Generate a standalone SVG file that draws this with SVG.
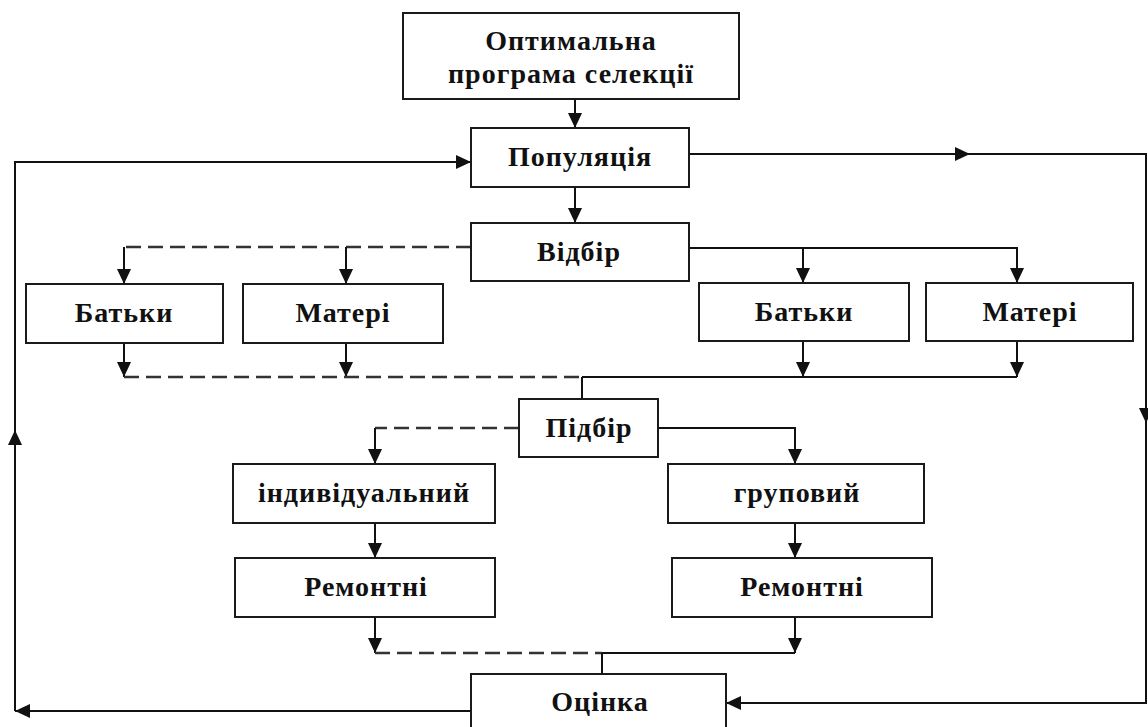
<svg xmlns="http://www.w3.org/2000/svg" width="1148" height="727" viewBox="0 0 1148 727">
<defs>
<style>
.box{fill:#fff;stroke:#1a1a1a;stroke-width:2}
.ln{fill:none;stroke:#111;stroke-width:2}
.ds{fill:none;stroke:#333;stroke-width:2.4;stroke-dasharray:15 7}
.t{font-family:"Liberation Serif","Times New Roman",serif;font-weight:bold;font-size:28px;letter-spacing:1px;fill:#111;text-anchor:middle}
</style>
<marker id="ah" markerUnits="userSpaceOnUse" markerWidth="16" markerHeight="14" refX="15" refY="7" orient="auto">
<path d="M0,0 L15,7 L0,14 Z" fill="#111"/>
</marker>
</defs>
<rect width="1148" height="727" fill="#fff"/>
<g id="connectors">
<path class="ln" d="M575,99 V128" marker-end="url(#ah)"/>
<path class="ln" d="M575,187 V223" marker-end="url(#ah)"/>
<path class="ds" d="M471,247 H124"/>
<path class="ln" d="M124,247 V284" marker-end="url(#ah)"/>
<path class="ln" d="M346,247 V284" marker-end="url(#ah)"/>
<path class="ln" d="M689,248 H1017 V283" marker-end="url(#ah)"/>
<path class="ln" d="M803,248 V283" marker-end="url(#ah)"/>
<path class="ln" d="M124,343 V377" marker-end="url(#ah)"/>
<path class="ln" d="M346,343 V377" marker-end="url(#ah)"/>
<path class="ln" d="M803,341 V377" marker-end="url(#ah)"/>
<path class="ln" d="M1017,341 V377" marker-end="url(#ah)"/>
<path class="ds" d="M124,377 H582"/>
<path class="ln" d="M582,377 H1017 M582,377 V399"/>
<path class="ds" d="M519,428 H375"/>
<path class="ln" d="M375,428 V464" marker-end="url(#ah)"/>
<path class="ln" d="M658,428 H795 V464" marker-end="url(#ah)"/>
<path class="ln" d="M375,523 V558" marker-end="url(#ah)"/>
<path class="ln" d="M795,523 V558" marker-end="url(#ah)"/>
<path class="ln" d="M375,617 V653" marker-end="url(#ah)"/>
<path class="ln" d="M795,617 V653" marker-end="url(#ah)"/>
<path class="ds" d="M375,653 H602"/>
<path class="ln" d="M602,653 H795 M602,653 V674"/>
<path class="ln" d="M471,711 H15" marker-end="url(#ah)"/>
<path class="ln" d="M15,711 V430" marker-end="url(#ah)"/>
<path class="ln" d="M15,430 V162 H471" marker-end="url(#ah)"/>
<path class="ln" d="M689,154 H970" marker-end="url(#ah)"/>
<path class="ln" d="M970,154 H1146 V423" marker-end="url(#ah)"/>
<path class="ln" d="M1146,423 V703 H726" marker-end="url(#ah)"/>
</g>
<g id="n-program"><rect class="box" x="403" y="13" width="336" height="86"/><text class="t" x="571" y="50">Оптимальна</text><text class="t" x="571" y="83">програма селекції</text></g>
<g id="n-population"><rect class="box" x="471" y="128" width="218" height="59"/><text class="t" x="580" y="166">Популяція</text></g>
<g id="n-vidbir"><rect class="box" x="471" y="223" width="218" height="58"/><text class="t" x="579" y="261">Відбір</text></g>
<g id="n-batky-l"><rect class="box" x="26" y="284" width="197" height="59"/><text class="t" x="124" y="322">Батьки</text></g>
<g id="n-materi-l"><rect class="box" x="243" y="284" width="200" height="59"/><text class="t" x="343" y="322">Матері</text></g>
<g id="n-batky-r"><rect class="box" x="699" y="283" width="210" height="58"/><text class="t" x="804" y="321">Батьки</text></g>
<g id="n-materi-r"><rect class="box" x="926" y="283" width="207" height="58"/><text class="t" x="1030" y="321">Матері</text></g>
<g id="n-pidbir"><rect class="box" x="519" y="399" width="139" height="58"/><text class="t" x="589" y="437">Підбір</text></g>
<g id="n-individ"><rect class="box" x="233" y="464" width="262" height="59"/><text class="t" x="364" y="502">індивідуальний</text></g>
<g id="n-grupovyi"><rect class="box" x="668" y="464" width="256" height="59"/><text class="t" x="797" y="502">груповий</text></g>
<g id="n-remont-l"><rect class="box" x="235" y="558" width="260" height="59"/><text class="t" x="366" y="596">Ремонтні</text></g>
<g id="n-remont-r"><rect class="box" x="672" y="558" width="260" height="59"/><text class="t" x="802" y="596">Ремонтні</text></g>
<g id="n-otsinka"><rect class="box" x="471" y="674" width="255" height="70"/><text class="t" x="600" y="711">Оцінка</text></g>
</svg>
